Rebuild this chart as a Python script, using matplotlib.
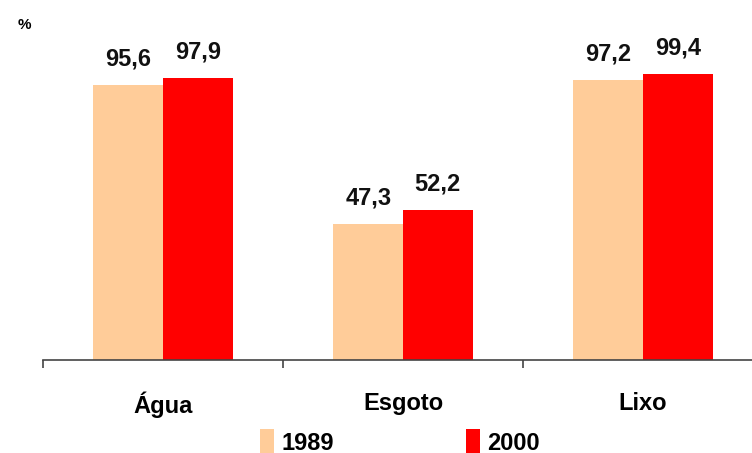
import matplotlib.pyplot as plt
from matplotlib.patches import Patch
import numpy as np

categories = ["Água", "Esgoto", "Lixo"]
years = ["1989", "2000"]
values_1989 = [95.6, 47.3, 97.2]
values_2000 = [97.9, 52.2, 99.4]

colors = ["#FFCC99", "#FF0000"]
font = "Liberation Sans"

fig = plt.figure(figsize=(7.52, 4.53), dpi=100)
# axes spans past the right edge, like the original slide chart
ax = fig.add_axes([43 / 752, 93 / 453, 720 / 752, 288 / 453])

x = np.arange(len(categories))
width = 0.29
bars_a = ax.bar(x - width / 2, values_1989, width, color=colors[0], linewidth=0)
bars_b = ax.bar(x + width / 2, values_2000, width, color=colors[1], linewidth=0)

for bars in (bars_a, bars_b):
    for b in bars:
        v = b.get_height()
        ax.annotate(f"{v:.1f}".replace(".", ","),
                    (b.get_x() + b.get_width() / 2, v),
                    xytext=(0, 14), textcoords="offset points",
                    ha="center", va="baseline", fontsize=17,
                    fontweight="bold", family=font, color="#111111")

ax.set_xlim(-0.5, 2.5)
ax.set_ylim(0, 100)
for side in ("top", "right", "left"):
    ax.spines[side].set_visible(False)
ax.spines["bottom"].set_color("#444444")
ax.spines["bottom"].set_linewidth(1.2)
ax.set_yticks([])

ax.set_xticks(x)
ax.set_xticklabels(categories, fontsize=17, fontweight="bold", family=font)
ax.tick_params(axis="x", which="major", length=0, pad=23)
ax.set_xticks([-0.5, 0.5, 1.5, 2.5], minor=True)
ax.tick_params(axis="x", which="minor", length=6, width=1.2, color="#444444",
               direction="out")

fig.text(18 / 752, 1 - 25 / 453, "%", fontsize=11, fontweight="bold",
         family=font, ha="left", va="center")

handles = [Patch(facecolor=c, edgecolor="none") for c in colors]
fig.legend(handles, years, loc="center", bbox_to_anchor=(400 / 752, 1 - 442 / 453),
           ncol=2, frameon=False, handlelength=0.6, handleheight=1.2,
           handletextpad=0.3, columnspacing=5.6,
           prop={"family": font, "weight": "bold", "size": 17})

fig.savefig("out.png", dpi=100)
